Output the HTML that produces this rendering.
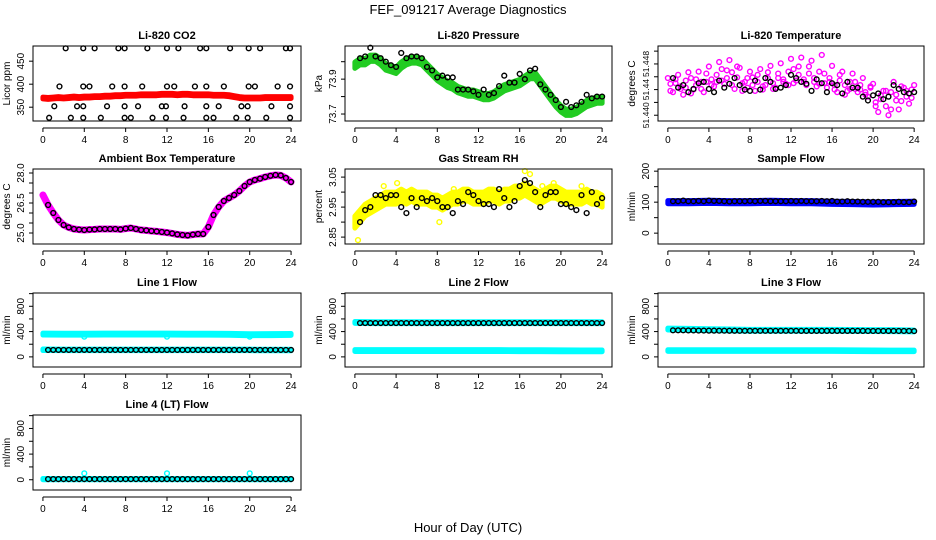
<!DOCTYPE html>
<html><head><meta charset="utf-8"><style>
html,body{margin:0;padding:0;background:#fff}
svg{display:block;font-family:"Liberation Sans",sans-serif}
</style></head><body>
<svg id="chart" width="936" height="540" viewBox="0 0 936 540">
<text x="468" y="14" text-anchor="middle" font-size="13">FEF_091217  Average Diagnostics</text>
<text x="468" y="532" text-anchor="middle" font-size="13">Hour of Day (UTC)</text>
</svg>
<script>
const hrs=[0,0.5,1,1.5,2,2.5,3,3.5,4,4.5,5,5.5,6,6.5,7,7.5,8,8.5,9,9.5,10,10.5,11,11.5,12,12.5,13,13.5,14,14.5,15,15.5,16,16.5,17,17.5,18,18.5,19,19.5,20,20.5,21,21.5,22,22.5,23,23.5,24];
const bh=[0.5,1,1.5,2,2.5,3,3.5,4,4.5,5,5.5,6,6.5,7,7.5,8,8.5,9,9.5,10,10.5,11,11.5,12,12.5,13,13.5,14,14.5,15,15.5,16,16.5,17,17.5,18,18.5,19,19.5,20,20.5,21,21.5,22,22.5,23,23.5,24];
const hq=[0.25,0.75,1.25,1.75,2.25,2.75,3.25,3.75,4.25,4.75,5.25,5.75,6.25,6.75,7.25,7.75,8.25,8.75,9.25,9.75,10.25,10.75,11.25,11.75,12.25,12.75,13.25,13.75,14.25,14.75,15.25,15.75,16.25,16.75,17.25,17.75,18.25,18.75,19.25,19.75,20.25,20.75,21.25,21.75,22.25,22.75,23.25,23.75];
const hh=[0,2,4,6,8,10,12,14,16,18,20,22,24];
const xTicks=[0,4,8,12,16,20,24];

const co2Red=[370,369,370,371,370,371,372,371,372,372,373,373,374,374,375,375,376,376,376,377,377,377,377,378,378,378,377,378,378,377,377,377,377,376,376,376,375,373,371,370,370,370,370,371,371,371,371,371,371];
const co2BlackH=[2.2,3.9,5.0,7.3,7.9,10.1,12.0,13.1,15.2,15.8,18.1,19.9,21.0,23.5,23.9,1.6,3.9,4.5,6.7,7.9,9.6,12.0,12.7,14.7,15.8,17.5,19.9,20.5,22.7,23.9,1.1,3.3,3.9,6.2,7.9,9.2,11.5,11.9,13.7,15.8,17.0,19.2,19.8,22.1,23.9,0.6,2.7,3.9,5.6,7.9,8.5,10.6,11.9,13.6,15.8,16.5,18.7,19.8,21.6,23.9];
const co2BlackV=[478,478,478,478,478,478,478,478,478,478,478,478,478,478,478,395,395,395,395,395,395,395,395,395,395,395,395,395,395,395,352,352,352,352,352,352,352,352,352,352,352,352,352,352,352,327,327,327,327,327,327,327,327,327,327,327,327,327,327,327];

const pressGreen=[73.98,74.0,74.0,74.02,74.02,74.0,73.97,73.96,73.95,73.98,74.0,74.01,74.01,74.0,73.97,73.94,73.91,73.89,73.87,73.86,73.84,73.83,73.82,73.82,73.81,73.8,73.8,73.81,73.83,73.85,73.86,73.87,73.88,73.9,73.92,73.92,73.88,73.84,73.8,73.76,73.73,73.71,73.71,73.72,73.74,73.76,73.77,73.78,73.78];
const pressBlack=[74.02,74.03,74.08,74.03,74.02,74.0,73.98,73.97,74.05,74.02,74.03,74.03,74.02,73.97,73.95,73.91,73.92,73.91,73.91,73.84,73.84,73.84,73.83,73.81,73.84,73.81,73.82,73.86,73.92,73.88,73.88,73.93,73.9,73.95,73.96,73.87,73.84,73.81,73.78,73.74,73.77,73.74,73.75,73.77,73.81,73.79,73.8,73.8];

const tempMagPts=[51.4458,51.4436,51.4463,51.4432,51.4467,51.4440,51.4468,51.4436,51.4476,51.4445,51.4483,51.4449,51.4486,51.4441,51.4474,51.4452,51.4468,51.4438,51.4472,51.4447,51.4477,51.4443,51.4481,51.4449,51.4488,51.4454,51.4490,51.4447,51.4485,51.4445,51.4494,51.4443,51.4477,51.4436,51.4468,51.4438,51.4465,51.4436,51.4458,51.4429,51.4449,51.4405,51.4438,51.4400,51.4452,51.4409,51.4443,51.4418,51.4447];
const tempMagPts2=[51.4438,51.4450,51.4441,51.4454,51.4434,51.4456,51.4441,51.4452,51.4447,51.4463,51.4454,51.4470,51.4447,51.4459,51.4438,51.4458,51.4447,51.4463,51.4440,51.4458,51.4450,51.4465,51.4456,51.4468,51.4450,51.4476,51.4456,51.4465,51.4452,51.4468,51.4450,51.4458,51.4447,51.4454,51.4432,51.4452,51.4441,51.4447,51.4436,51.4443,51.4420,51.4431,51.4414,51.4436,51.4423,51.4445,51.4429,51.4440];
const tempMagPts3=[51.4449,51.4456,51.4445,51.4443,51.4458,51.4447,51.4452,51.4465,51.4456,51.4452,51.4472,51.4458,51.4467,51.4476,51.4450,51.4443,51.4459,51.4452,51.4445,51.4467,51.4441,51.4458,51.4452,51.4447,51.4472,51.4463,51.4452,51.4476,51.4458,51.4449,51.4465,51.4452,51.4440,51.4463,51.4447,51.4441,51.4452,51.4440,51.4432,51.4445,51.4414,51.4425,51.4438,51.4409,51.4432,51.4422,51.4438,51.4427];
const tempBlack=[51.4458,51.4443,51.4447,51.4436,51.4441,51.4450,51.4452,51.4441,51.4436,51.4454,51.4443,51.4449,51.4458,51.4447,51.4440,51.4438,51.4454,51.4440,51.4458,51.4452,51.4441,51.4443,51.4447,51.4463,51.4458,51.4452,51.4449,51.4438,51.4456,51.4450,51.4436,51.4450,51.4447,51.4434,51.4452,51.4443,51.4443,51.4429,51.4423,51.4431,51.4434,51.4425,51.4429,51.4447,51.4441,51.4436,51.4434,51.4436];

const ambMag=[26.9,26.4,26.0,25.65,25.4,25.28,25.2,25.17,25.15,25.17,25.18,25.2,25.2,25.2,25.2,25.18,25.22,25.25,25.2,25.15,25.13,25.1,25.08,25.05,25.02,24.98,24.93,24.9,24.88,24.92,24.95,24.95,25.3,25.9,26.3,26.6,26.75,26.9,27.1,27.35,27.55,27.65,27.72,27.8,27.86,27.9,27.88,27.75,27.55];
const ambBlack=[26.4,26.0,25.65,25.4,25.28,25.2,25.17,25.15,25.17,25.18,25.2,25.2,25.2,25.2,25.18,25.22,25.25,25.2,25.15,25.13,25.1,25.08,25.05,25.02,24.98,24.93,24.9,24.88,24.92,24.95,24.95,25.3,25.9,26.3,26.6,26.75,26.9,27.1,27.35,27.55,27.65,27.72,27.8,27.86,27.9,27.88,27.75,27.55];

const rhYellow=[2.90,2.92,2.94,2.95,2.96,2.97,2.98,2.98,2.98,2.99,2.98,2.99,2.98,2.98,2.98,2.97,2.97,2.96,2.97,2.98,2.98,2.99,2.99,2.98,2.98,2.98,2.99,2.99,2.98,2.99,2.99,3.00,3.00,3.01,3.00,2.99,2.98,2.99,3.00,3.00,2.99,2.98,2.98,2.98,2.98,2.99,2.98,2.98,2.97];
const rhYellowOutH=[0.3,8.2,16.5,17.0,2.8,4.1,9.6,18.2,19.3,22.0];
const rhYellowOutV=[2.84,2.90,3.07,3.06,3.02,3.03,3.01,3.02,3.03,3.02];
const rhBlack=[2.90,2.94,2.95,2.99,2.99,2.98,2.99,2.99,2.95,2.93,2.98,2.95,2.98,2.97,2.98,2.97,2.95,2.95,2.93,2.97,2.96,3.00,2.99,2.97,2.96,2.96,2.95,3.01,2.98,2.95,2.97,3.02,3.04,3.03,3.00,2.95,2.99,3.00,3.00,2.96,2.96,2.95,2.94,2.99,2.93,3.00,2.96,2.98];

const sampleBlue=[100,100,101,100,100,101,100,100,98,97,96,97,98];
const sampleBlack=[103,103,105,103,103,104,103,105,104,104,103,102,103,103,103,104,103,104,104,103,103,103,103,104,103,104,103,103,103,104,103,104,102,102,103,102,102,101,101,101,101,100,100,100,101,100,100,102];

const l1CyanHi=[360,358,358,360,360,360,360,358,358,356,350,352,355];
const l1CyanLo=[112,110,110,110,110,110,110,110,110,110,110,108,108];
const l1Black=[110,110,110,110,110,110,110,110,110,110,110,110,110,110,110,110,110,110,110,110,110,110,110,110,110,110,110,110,110,110,110,110,110,110,110,110,110,110,110,110,110,110,110,110,110,110,110,110];
const l1OutH=[4,12,20];const l1OutV=[320,320,320];

const l2CyanHi=[545,540,540,540,540,540,540,540,540,540,540,540,540];
const l2CyanLo=[100,100,100,100,100,100,100,100,98,98,96,95,95];
const l2Black=[535,535,535,535,535,535,535,535,535,535,535,535,535,535,535,535,535,535,535,535,535,535,535,535,535,535,535,535,535,535,535,535,535,535,535,535,535,535,535,535,535,535,535,535,535,535,535,535];

const l3CyanHi=[440,435,430,425,420,420,420,420,420,418,416,415,410];
const l3CyanLo=[100,100,100,100,100,100,100,100,100,98,96,95,95];
const l3Black=[420,420,420,418,418,416,416,415,415,414,414,413,413,412,412,412,412,412,412,412,412,412,412,412,412,411,411,411,411,411,411,411,411,411,411,411,411,411,410,410,410,410,410,410,410,410,410,408];

const l4Cyan=[10,10,10,10,10,10,10,10,10,10,10,10,10];
const l4Black=[10,10,10,10,10,10,10,10,10,10,10,10,10,10,10,10,10,10,10,10,10,10,10,10,10,10,10,10,10,10,10,10,10,10,10,10,10,10,10,10,10,10,10,10,10,10,10,10];
const l4OutH=[4,12,20];const l4OutV=[100,100,100];

const NS="http://www.w3.org/2000/svg";
const svg=document.getElementById('chart');
const colL=[33,345,658],colR=[301,612,924],rowT=[46,169,293,415],rowB=[121,244,367,490];
function mk(tag,attrs,parent){const e=document.createElementNS(NS,tag);for(const k in attrs)e.setAttribute(k,attrs[k]);(parent||svg).appendChild(e);return e;}

function panel(cfg){
  const L=colL[cfg.c],R=colR[cfg.c],T=rowT[cfg.r],B=rowB[cfg.r];
  const g=mk('g',{});
  
  
  const sx=h=>L+(h+0.96)/25.92*(R-L);
  const sy=v=>B-(v-cfg.ymin)/(cfg.ymax-cfg.ymin)*(B-T);
  const t=mk('text',{x:(L+R)/2,y:T-7,'text-anchor':'middle','font-size':11,'font-weight':'bold'},g);
  t.textContent=cfg.title;
  
  
  (cfg.bands||[]).forEach(b=>{
    let pts=[];
    b.hi.forEach((v,i)=>pts.push(sx(b.h[i])+','+sy(v+b.w)));
    for(let i=b.lo.length-1;i>=0;i--)pts.push(sx(b.h[i])+','+sy(b.lo[i]-b.w));
    const p=mk('polygon',{points:pts.join(' '),fill:b.color,stroke:b.color,'stroke-width':5,'stroke-linejoin':'round',opacity:b.op||1},g);
    
    
  });
  (cfg.lines||[]).forEach(ln=>{
    const p=mk('polyline',{points:ln.v.map((v,i)=>sx(ln.h[i])+','+sy(v)).join(' '),fill:'none',stroke:ln.color,'stroke-width':ln.w,'stroke-linejoin':'round','stroke-linecap':'round'},g);
    
    
  });
  (cfg.pts||[]).forEach(ps=>{
    ps.v.forEach((v,i)=>{
      const c=mk('circle',{cx:sx(ps.h[i]),cy:sy(v),r:2.4,fill:'none',stroke:ps.color,'stroke-width':1.4},g);
      
      
    });
  });
  const box=mk('rect',{x:L,y:T,width:R-L,height:B-T,fill:'none',stroke:'#000','stroke-width':1},g);
  
  
  const ay=B+7;
  mk('line',{x1:sx(0),x2:sx(24),y1:ay,y2:ay,stroke:'#000'},g);
  xTicks.forEach(h=>{
    mk('line',{x1:sx(h),x2:sx(h),y1:ay,y2:ay+4,stroke:'#000'},g);
    const tl=mk('text',{x:sx(h),y:ay+15,'text-anchor':'middle','font-size':10},g);
    tl.textContent=h;
    
    
  });
  cfg.yt.forEach(v=>{
    const y=sy(v);
    mk('line',{x1:L-4,x2:L,y1:y,y2:y,stroke:'#000'},g);
  });
  cfg.yl.forEach(v=>{
    const y=sy(v);
    const tl=mk('text',{x:0,y:0,'text-anchor':'middle','font-size':cfg.tfs||10,transform:`translate(${L-9},${y}) rotate(-90)`},g);
    tl.textContent=cfg.fmt?cfg.fmt(v):v;
    
    
  });
  const yl=mk('text',{x:0,y:0,'text-anchor':'middle','font-size':10,transform:`translate(${L-23},${(T+B)/2}) rotate(-90)`},g);
  yl.textContent=cfg.ylab;
  
  
}

panel({name:'co2',r:0,c:0,title:'Li-820 CO2',ylab:'Licor ppm',ymin:320,ymax:483,yt:[350,400,450],yl:[350,400,450],
  bands:[{h:hrs,hi:co2Red,lo:co2Red,w:2,color:'#ff0000'}],
  pts:[{h:co2BlackH,v:co2BlackV,color:'#000'}]});
panel({name:'pressure',r:0,c:1,title:'Li-820 Pressure',ylab:'kPa',ymin:73.66,ymax:74.09,yt:[73.7,73.8,73.9,74.0],yl:[73.7,73.9],fmt:v=>v.toFixed(1),
  bands:[{h:hrs,hi:pressGreen,lo:pressGreen,w:0.018,color:'#22cc22'}],
  pts:[{h:bh,v:pressBlack,color:'#000'}]});
panel({name:'li820-temp',r:0,c:2,title:'Li-820 Temperature',ylab:'degrees C',ymin:51.4391,ymax:51.4508,tfs:8.5,yt:[51.440,51.442,51.444,51.446,51.448,51.450],yl:[51.440,51.444,51.448],fmt:v=>v===51.444?'51.44':v.toFixed(3),
  pts:[{h:hrs,v:tempMagPts,color:'#ff00ff'},{h:hq,v:tempMagPts2,color:'#ff00ff'},{h:hq,v:tempMagPts3,color:'#ff00ff'},{h:bh,v:tempBlack,color:'#000'}]});
panel({name:'ambient-temp',r:1,c:0,title:'Ambient Box Temperature',ylab:'degrees C',ymin:24.45,ymax:28.2,yt:[25,25.5,26,26.5,27,27.5,28],yl:[25,26.5,28],fmt:v=>v.toFixed(1),
  lines:[{h:hrs,v:ambMag,color:'#ff00ff',w:7}],
  pts:[{h:bh,v:ambBlack,color:'#000'}]});
panel({name:'rh',r:1,c:1,title:'Gas Stream RH',ylab:'percent',ymin:2.827,ymax:3.077,yt:[2.85,2.9,2.95,3.0,3.05],yl:[2.85,2.95,3.05],fmt:v=>v.toFixed(2),
  bands:[{h:hrs,hi:rhYellow,lo:rhYellow,w:0.02,color:'#ffff00'}],
  pts:[{h:rhYellowOutH,v:rhYellowOutV,color:'#ffff00'},{h:bh,v:rhBlack,color:'#000'}]});
panel({name:'sample-flow',r:1,c:2,title:'Sample Flow',ylab:'ml/min',ymin:-35,ymax:207,yt:[0,50,100,150,200],yl:[0,100,200],
  bands:[{h:hh,hi:sampleBlue,lo:sampleBlue,w:5,color:'#0000ff'}],
  pts:[{h:bh,v:sampleBlack,color:'#000'}]});
panel({name:'line1-flow',r:2,c:0,title:'Line 1 Flow',ylab:'ml/min',ymin:-160,ymax:1010,yt:[0,200,400,600,800,1000],yl:[0,400,800],
  bands:[{h:hh,hi:l1CyanHi,lo:l1CyanHi,w:15,color:'#00ffff'},{h:hh,hi:l1CyanLo,lo:l1CyanLo,w:12,color:'#00ffff'}],
  pts:[{h:l1OutH,v:l1OutV,color:'#00ffff'},{h:bh,v:l1Black,color:'#000'}]});
panel({name:'line2-flow',r:2,c:1,title:'Line 2 Flow',ylab:'ml/min',ymin:-160,ymax:1010,yt:[0,200,400,600,800,1000],yl:[0,400,800],
  bands:[{h:hh,hi:l2CyanHi,lo:l2CyanHi,w:15,color:'#00ffff'},{h:hh,hi:l2CyanLo,lo:l2CyanLo,w:14,color:'#00ffff'}],
  pts:[{h:bh,v:l2Black,color:'#000'}]});
panel({name:'line3-flow',r:2,c:2,title:'Line 3 Flow',ylab:'ml/min',ymin:-160,ymax:1010,yt:[0,200,400,600,800,1000],yl:[0,400,800],
  bands:[{h:hh,hi:l3CyanHi,lo:l3CyanHi,w:15,color:'#00ffff'},{h:hh,hi:l3CyanLo,lo:l3CyanLo,w:12,color:'#00ffff'}],
  pts:[{h:bh,v:l3Black,color:'#000'}]});
panel({name:'line4-flow',r:3,c:0,title:'Line 4 (LT) Flow',ylab:'ml/min',ymin:-160,ymax:1010,yt:[0,200,400,600,800,1000],yl:[0,400,800],
  bands:[{h:hh,hi:l4Cyan,lo:l4Cyan,w:10,color:'#00ffff'}],
  pts:[{h:l4OutH,v:l4OutV,color:'#00ffff'},{h:bh,v:l4Black,color:'#000'}]});
</script>
</body></html>
